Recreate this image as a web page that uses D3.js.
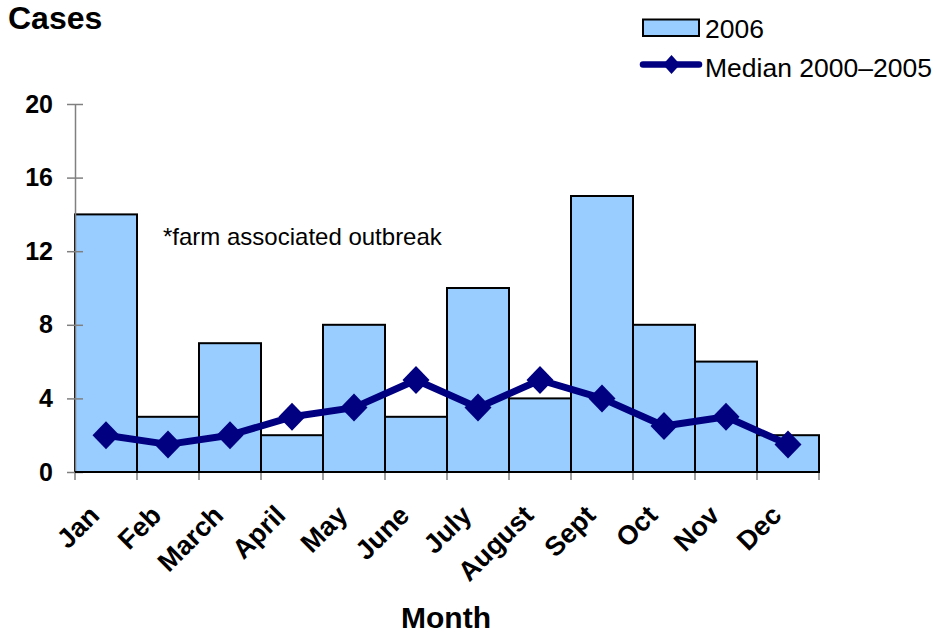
<!DOCTYPE html>
<html><head><meta charset="utf-8">
<script src="https://cdn.jsdelivr.net/npm/d3@7"></script>
<style>body{margin:0;background:#fff}svg{display:block;font-family:"Liberation Sans",Arial,sans-serif}</style>
</head><body><svg id="c" width="937" height="634"></svg>
<script>
const months = ["Jan","Feb","March","April","May","June","July","August","Sept","Oct","Nov","Dec"];
const cases2006 = [14,3,7,2,8,3,10,4,15,8,6,2];
const median0005 = [2,1.5,2,3,3.5,5,3.5,5,4,2.5,3,1.5];
const yTicks = [0,4,8,12,16,20];

const svg = d3.select("#c");
const L=75,R=819,T=104,B=472;
const x = d3.scaleBand().domain(months).range([L,R]).padding(0);
const y = d3.scaleLinear().domain([0,20]).range([B,T]);
const FF = "Liberation Sans, Arial, sans-serif";

// bars
svg.append("g").selectAll("rect").data(months).join("rect")
  .attr("x",d=>x(d)).attr("width",x.bandwidth())
  .attr("y",(d,i)=>y(cases2006[i])).attr("height",(d,i)=>y(0)-y(cases2006[i]))
  .attr("fill","#99CCFF").attr("stroke","#000").attr("stroke-width",2);

// y axis
const ya = svg.append("g").attr("transform",`translate(${L},0)`)
  .call(d3.axisLeft(y).tickValues(yTicks).tickSizeInner(8).tickSizeOuter(0).tickPadding(14));
ya.select(".domain").attr("stroke","#808080").attr("stroke-width",1.5);
ya.selectAll(".tick line").attr("x1",8).attr("stroke","#808080").attr("stroke-width",1.5);
ya.selectAll("text").attr("font-size",25).attr("font-weight","bold").attr("fill","#000")
  .attr("font-family",FF).attr("x",-22);

// x axis ticks at band boundaries
const bounds = months.map(m=>x(m)).concat([R]);
svg.append("line").attr("x1",L).attr("x2",R).attr("y1",B).attr("y2",B).attr("stroke","#000").attr("stroke-width",2);
svg.append("g").selectAll("line").data(bounds).join("line")
  .attr("x1",d=>d).attr("x2",d=>d).attr("y1",B+1).attr("y2",B+8)
  .attr("stroke","#808080").attr("stroke-width",1.5);

// month labels
svg.append("g").selectAll("text").data(months).join("text")
  .attr("transform",d=>`translate(${x(d)+x.bandwidth()/2-5},${B+45}) rotate(-45)`)
  .attr("text-anchor","end").attr("font-size",27).attr("font-weight","bold").text(d=>d);

// median line
const cx = d=>x(d)+x.bandwidth()/2;
const line = d3.line().x((d,i)=>cx(months[i])).y(d=>y(d));
svg.append("path").datum(median0005).attr("d",line).attr("fill","none")
  .attr("stroke","#000080").attr("stroke-width",7).attr("stroke-linejoin","round");
const dia = (w,h)=>`M0,${-h}L${w},0L0,${h}L${-w},0Z`;
svg.append("g").selectAll("path").data(median0005).join("path")
  .attr("transform",(d,i)=>`translate(${cx(months[i])},${y(d)})`)
  .attr("d",dia(13.5,14)).attr("fill","#000080");

// titles
svg.append("text").attr("x",8).attr("y",29).attr("font-size",32).attr("font-weight","bold").text("Cases");
svg.append("text").attr("x",446).attr("y",628).attr("text-anchor","middle").attr("font-size",30).attr("font-weight","bold").text("Month");
svg.append("text").attr("x",163).attr("y",245).attr("font-size",24).text("*farm associated outbreak");

// legend
svg.append("rect").attr("x",643).attr("y",19.5).attr("width",56).attr("height",16.5).attr("fill","#99CCFF").attr("stroke","#000").attr("stroke-width",2);
svg.append("text").attr("x",705).attr("y",37.5).attr("font-size",26.5).text("2006");
svg.append("line").attr("x1",643).attr("x2",699).attr("y1",64.5).attr("y2",64.5).attr("stroke","#000080").attr("stroke-width",6.5).attr("stroke-linecap","round");
svg.append("path").attr("transform","translate(671.5,64.5)").attr("d",dia(8.5,9.5)).attr("fill","#000080");
svg.append("text").attr("x",705).attr("y",76.5).attr("font-size",26.5).text("Median 2000–2005");
</script></body></html>
